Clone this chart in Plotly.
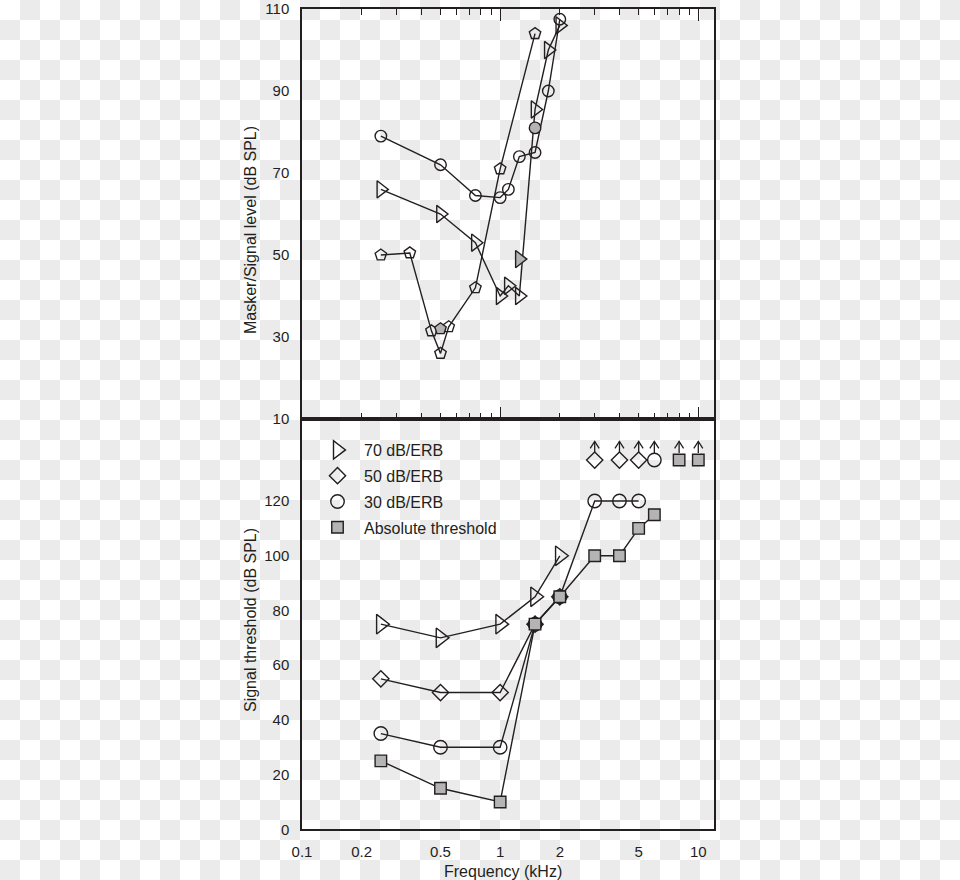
import base64
import math
import plotly.graph_objects as go

# ---------------- data ----------------
# Top panel: Masker/Signal level (dB SPL) vs frequency (kHz)
top_tri_f = [0.25, 0.5, 0.75, 1.0, 1.1, 1.25, 1.5, 1.75, 2.0]
top_tri_v = [66, 60, 53, 40, 42.5, 40, 85.5, 100, 106]
top_cir_f = [0.25, 0.5, 0.75, 1.0, 1.1, 1.25, 1.5, 1.75, 2.0]
top_cir_v = [79, 72, 64.5, 64, 66, 74, 75, 90, 107.5]
top_pen_f = [0.25, 0.35, 0.45, 0.5, 0.55, 0.75, 1.0, 1.5]
top_pen_v = [50, 50.5, 31.5, 26, 32.5, 42, 71, 104]
top_tri_filled_f = [1.25]
top_tri_filled_v = [49]
top_cir_filled_f = [1.5]
top_cir_filled_v = [81]
top_pen_filled_f = [0.5]
top_pen_filled_v = [32]

# Bottom panel: Signal threshold (dB SPL)
names = ["70 dB/ERB", "50 dB/ERB", "30 dB/ERB", "Absolute threshold"]
bot_f70 = [0.25, 0.5, 1, 1.5, 2]
bot_v70 = [75, 70, 75, 85, 100]
bot_f50 = [0.25, 0.5, 1, 1.5, 2]
bot_v50 = [55, 50, 50, 75, 85]
bot_f30 = [0.25, 0.5, 1, 1.5, 2, 3, 4, 5]
bot_v30 = [35, 30, 30, 75, 85, 120, 120, 120]
bot_fabs = [0.25, 0.5, 1, 1.5, 2, 3, 4, 5, 6]
bot_vabs = [25, 15, 10, 75, 85, 100, 100, 110, 115]
# lower-bound points (threshold above measurable range)
lb_f50 = [3, 4, 5]
lb_f30 = [6]
lb_fabs = [8, 10]
lb_level = 135

# axis ticks
x_tickvals = [0.1, 0.2, 0.5, 1, 2, 5, 10]
x_ticktext = ["0.1", "0.2", "0.5", "1", "2", "5", "10"]
x_major = [1, 10]
x_minor = [0.2, 0.3, 0.4, 0.5, 0.6, 0.7, 0.8, 0.9, 2, 3, 4, 5, 6, 7, 8, 9]
top_y_ticks = [10, 30, 50, 70, 90, 110]
top_y_minor = [20, 30, 40, 50, 60, 70, 80, 90, 100]
bot_y_ticks = [0, 20, 40, 60, 80, 100, 120]
bot_y_minor = [10, 20, 30, 40, 50, 60, 70, 80, 90, 100, 110, 120, 130, 140]

# ---------------- style ----------------
INK = "#231f20"
GREY = "#b4b4b4"
FONT = "Liberation Sans, Arial, Helvetica, sans-serif"
W, H = 960, 880
X0, X1 = 302, 714
YT0, YT1 = 9, 419
YB0, YB1 = 419, 829.3
LW = 1.4


def px_x(p):
    return p / W


def px_y(p):
    return 1 - p / H


fig = go.Figure()


def line_trace(x, y, symbol, size, xa, ya, name=None):
    return go.Scatter(
        x=x, y=y, mode="lines+markers", xaxis=xa, yaxis=ya, name=name,
        showlegend=False, hoverinfo="x+y",
        line=dict(color=INK, width=LW),
        marker=dict(symbol=symbol, size=size, color=INK,
                    line=dict(color=INK, width=LW)),
    )


def filled_trace(x, y, symbol, size, xa, ya):
    return go.Scatter(
        x=x, y=y, mode="markers", xaxis=xa, yaxis=ya, showlegend=False,
        marker=dict(symbol=symbol, size=size, color=GREY,
                    line=dict(color=INK, width=LW)),
    )


# top panel
fig.add_trace(line_trace(top_pen_f, top_pen_v, "pentagon-open", 12, "x", "y"))
fig.add_trace(line_trace(top_tri_f, top_tri_v, "triangle-right-open", 15, "x", "y"))
fig.add_trace(line_trace(top_cir_f, top_cir_v, "circle-open", 11.5, "x", "y"))
fig.add_trace(filled_trace(top_pen_filled_f, top_pen_filled_v, "pentagon", 12, "x", "y"))
fig.add_trace(filled_trace(top_tri_filled_f, top_tri_filled_v, "triangle-right", 15, "x", "y"))
fig.add_trace(filled_trace(top_cir_filled_f, top_cir_filled_v, "circle", 11.5, "x", "y"))

# bottom panel
fig.add_trace(line_trace(bot_f70, bot_v70, "triangle-right-open", 17, "x2", "y2", names[0]))
fig.add_trace(line_trace(bot_f50, bot_v50, "diamond-open", 12.5, "x2", "y2", names[1]))
fig.add_trace(line_trace(bot_f30, bot_v30, "circle-open", 13.5, "x2", "y2", names[2]))
t = line_trace(bot_fabs, bot_vabs, "square", 11.5, "x2", "y2", names[3])
t.marker.color = GREY
fig.add_trace(t)

# lower-bound markers with upward arrows
fig.add_trace(go.Scatter(x=lb_f50, y=[lb_level] * len(lb_f50), mode="markers",
                         xaxis="x2", yaxis="y2", showlegend=False,
                         marker=dict(symbol="diamond-open", size=12.5, color=INK,
                                     line=dict(color=INK, width=LW))))
fig.add_trace(go.Scatter(x=lb_f30, y=[lb_level] * len(lb_f30), mode="markers",
                         xaxis="x2", yaxis="y2", showlegend=False,
                         marker=dict(symbol="circle-open", size=13.5, color=INK,
                                     line=dict(color=INK, width=LW))))
fig.add_trace(go.Scatter(x=lb_fabs, y=[lb_level] * len(lb_fabs), mode="markers",
                         xaxis="x2", yaxis="y2", showlegend=False,
                         marker=dict(symbol="square", size=11.5, color=GREY,
                                     line=dict(color=INK, width=LW))))

# arrows (stem + open chevron head) above every lower-bound point
k = 10 ** (4.5 / 198.5)
ax_x, ax_y = [], []
for f in lb_f50 + lb_f30 + lb_fabs:
    base, tip, wing = lb_level + 2.6, lb_level + 6.8, lb_level + 4.3
    ax_x += [f, f, None, f / k, f, f * k, None]
    ax_y += [base, tip, None, wing, tip, wing, None]
fig.add_trace(go.Scatter(x=ax_x, y=ax_y, mode="lines", xaxis="x2", yaxis="y2",
                         showlegend=False, hoverinfo="skip",
                         line=dict(color=INK, width=1.3)))

# legend entries (marker only)
leg_syms = [("triangle-right-open", 17, INK), ("diamond-open", 12.5, INK),
            ("circle-open", 13.5, INK), ("square", 11.5, GREY)]
for i, (sym, sz, col) in enumerate(leg_syms):
    fig.add_trace(go.Scatter(x=[None], y=[None], mode="markers", name=names[i],
                             legendgroup=f"g{i}", xaxis="x2", yaxis="y2",
                             marker=dict(symbol=sym, size=sz, color=col,
                                         line=dict(color=INK, width=LW))))

# ---------------- background (checkerboard of the reference) ----------------
svg = (
    f'<svg xmlns="http://www.w3.org/2000/svg" width="{W}" height="{H}">'
    '<defs><pattern id="p" width="40" height="40" patternUnits="userSpaceOnUse">'
    '<rect width="40" height="40" fill="#ffffff"/>'
    '<rect x="20" y="0" width="20" height="20" fill="#ebebeb"/>'
    '<rect x="0" y="20" width="20" height="20" fill="#ebebeb"/>'
    '</pattern></defs>'
    f'<rect width="{W}" height="{H}" fill="url(#p)"/></svg>'
)
bg_src = "data:image/svg+xml;base64," + base64.b64encode(svg.encode()).decode()

xrange_log = [-1, math.log10(12)]
dom_x = [px_x(X0), px_x(X1)]
dom_top = [px_y(YT1), px_y(YT0)]
dom_bot = [px_y(YB1), px_y(YB0)]

tickfont = dict(family=FONT, size=15, color=INK)
common_line = dict(showline=True, linecolor=INK, linewidth=1.5, showgrid=False,
                   zeroline=False)
title_font = dict(family=FONT, size=16, color=INK)

fig.update_layout(
    width=W, height=H,
    margin=dict(l=0, r=0, t=0, b=0, autoexpand=False),
    paper_bgcolor="white",
    plot_bgcolor="rgba(0,0,0,0)",
    font=dict(family=FONT, size=16, color=INK),
    images=[dict(source=bg_src, xref="paper", yref="paper", x=0, y=1,
                 sizex=1, sizey=1, xanchor="left", yanchor="top",
                 sizing="stretch", layer="below")],
    xaxis=dict(type="log", range=xrange_log, domain=dom_x, anchor="y",
               tickmode="array", tickvals=x_major, ticks="inside", ticklen=12,
               tickwidth=1.3, tickcolor=INK, showticklabels=False,
               mirror="ticks",
               minor=dict(tickmode="array", tickvals=x_minor, ticks="inside",
                          ticklen=6, tickwidth=1.3, tickcolor=INK),
               **common_line),
    yaxis=dict(range=[10, 110], domain=dom_top, anchor="x",
               tickmode="array", tickvals=top_y_ticks, ticks="",
               ticklabelstandoff=8, tickfont=tickfont, mirror=True,
               **common_line),
    yaxis3=dict(range=[10, 110], overlaying="y", side="right", anchor="x",
                tickmode="array", tickvals=top_y_minor, ticks="inside",
                ticklen=6, tickwidth=1.3, tickcolor=INK,
                showticklabels=False, showline=False, showgrid=False,
                zeroline=False),
    xaxis2=dict(type="log", range=xrange_log, domain=dom_x, anchor="y2",
                tickmode="array", tickvals=x_tickvals, ticktext=x_ticktext,
                ticks="", ticklabelstandoff=8, tickfont=tickfont,
                mirror=True, **common_line),
    xaxis4=dict(type="log", range=xrange_log, overlaying="x2", anchor="y2",
                side="bottom", tickmode="array", tickvals=x_major,
                ticks="inside", ticklen=12, tickwidth=1.3, tickcolor=INK,
                showticklabels=False, mirror="ticks", showline=False,
                showgrid=False, zeroline=False,
                minor=dict(tickmode="array", tickvals=x_minor, ticks="inside",
                           ticklen=6, tickwidth=1.3, tickcolor=INK)),
    yaxis2=dict(range=[0, 150], domain=dom_bot, anchor="x2",
                tickmode="array", tickvals=bot_y_ticks, ticks="",
                ticklabelstandoff=8, tickfont=tickfont, mirror=True,
                **common_line),
    yaxis4=dict(range=[0, 150], overlaying="y2", side="right", anchor="x2",
                tickmode="array", tickvals=bot_y_minor, ticks="inside",
                ticklen=6, tickwidth=1.3, tickcolor=INK,
                showticklabels=False, showline=False, showgrid=False,
                zeroline=False),
    legend=dict(x=px_x(311), y=px_y(433), xanchor="left", yanchor="top",
                bgcolor="rgba(0,0,0,0)", borderwidth=0, itemwidth=43,
                tracegroupgap=2, font=dict(family=FONT, size=16, color=INK),
                itemsizing="trace"),
    annotations=[
        dict(text="Masker/Signal level (dB SPL)", textangle=-90,
             x=px_x(250), y=px_y(230), xref="paper", yref="paper",
             xanchor="center", yanchor="middle",
             showarrow=False, font=title_font),
        dict(text="Signal threshold (dB SPL)", textangle=-90,
             x=px_x(250), y=px_y(620), xref="paper", yref="paper",
             xanchor="center", yanchor="middle",
             showarrow=False, font=title_font),
        dict(text="Frequency (kHz)", x=px_x(503), y=px_y(871.5),
             xref="paper", yref="paper", xanchor="center", yanchor="middle",
             showarrow=False, font=title_font),
    ],
)

fig.write_html("out.html",
               config={"displayModeBar": False},
               post_script="document.body.style.margin='0px';")
